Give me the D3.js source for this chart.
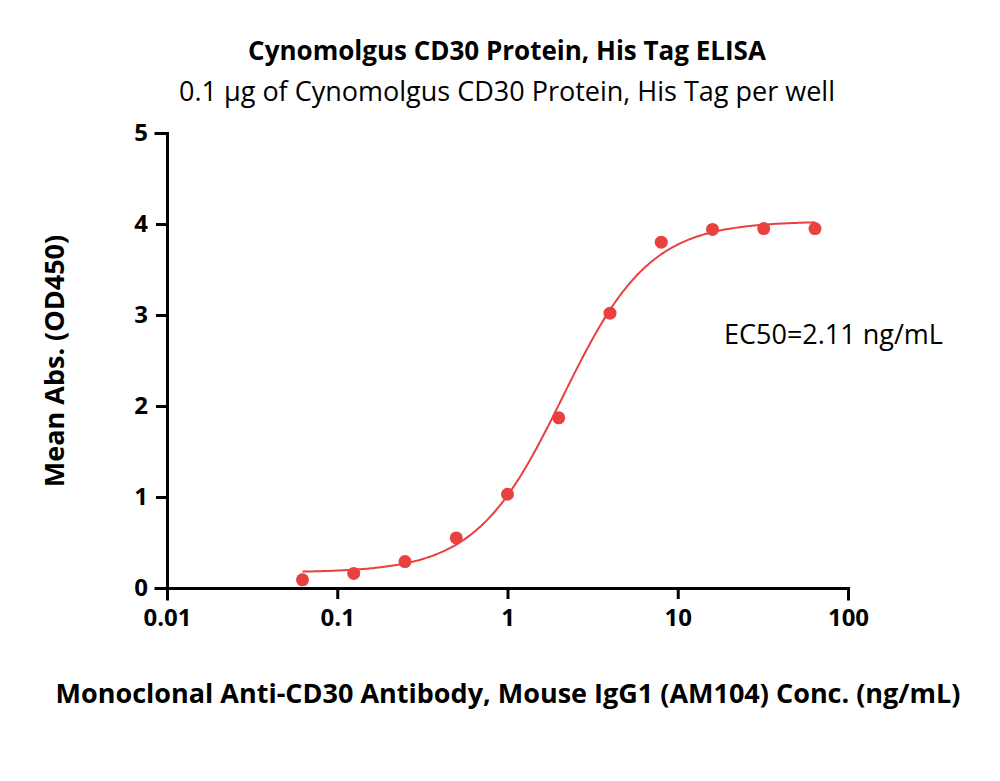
<!DOCTYPE html>
<html>
<head>
<meta charset="utf-8">
<script src="https://d3js.org/d3.v7.min.js"></script>
<style>
body { margin: 0; background: #fff; font-family: "Open Sans", "Noto Sans", sans-serif; }
</style>
</head>
<body>
<div id="chart"></div>
<script>
var conc = [0.0625, 0.125, 0.25, 0.5, 1, 2, 4, 8, 16, 32, 64];
var od = [0.09, 0.16, 0.29, 0.55, 1.03, 1.87, 3.02, 3.80, 3.94, 3.95, 3.95];
var xTicks = [0.01, 0.1, 1, 10, 100];
var yTicks = [0, 1, 2, 3, 4, 5];
// 4PL fit parameters
var fitBottom = 0.17, fitTop = 4.03, fitEC50 = 2.11, fitHill = 1.7;

var width = 1000, height = 781;
var red = "#e8413f";

var svg = d3.select("#chart").append("svg")
  .attr("width", width).attr("height", height);

var x = d3.scaleLog().domain([0.01, 100]).range([167, 848]);
var y = d3.scaleLinear().domain([0, 5]).range([588, 133]);

// fitted curve
var curve = d3.range(0, 301).map(function(i) {
  var lx = Math.log10(conc[0]) + i / 300 * (Math.log10(conc[conc.length - 1]) - Math.log10(conc[0]));
  var c = Math.pow(10, lx);
  return [c, fitBottom + (fitTop - fitBottom) / (1 + Math.pow(fitEC50 / c, fitHill))];
});
svg.append("path").datum(curve)
  .attr("fill", "none").attr("stroke", red).attr("stroke-width", 2)
  .attr("d", d3.line().x(function(d) { return x(d[0]); }).y(function(d) { return y(d[1]); }));

svg.selectAll("circle.pt").data(conc).enter().append("circle")
  .attr("cx", function(d) { return x(d); })
  .attr("cy", function(d, i) { return y(od[i]); })
  .attr("r", 6.5).attr("fill", red);

var xAxis = svg.append("g").attr("transform", "translate(0," + 588 + ")")
  .call(d3.axisBottom(x).tickValues(xTicks).tickSize(11).tickPadding(10)
    .tickFormat(function(d) { return String(d); }));
var yAxis = svg.append("g").attr("transform", "translate(167,0)")
  .call(d3.axisLeft(y).tickValues(yTicks).tickSize(11).tickPadding(8)
    .tickFormat(d3.format("d")));

[xAxis, yAxis].forEach(function(g) {
  g.selectAll("path, line").attr("stroke", "#000").attr("stroke-width", 3);
  g.select("path").attr("stroke-linecap", "square");
  g.selectAll("text").attr("fill", "#000")
    .style("font-family", "'Open Sans', sans-serif")
    .style("font-size", "24px").style("font-weight", "bold");
});

svg.append("text").attr("x", 507).attr("y", 60).attr("text-anchor", "middle")
  .style("font-size", "26px").style("font-weight", "bold")
  .text("Cynomolgus CD30 Protein, His Tag ELISA");
svg.append("text").attr("x", 507).attr("y", 101).attr("text-anchor", "middle")
  .style("font-size", "27px")
  .text("0.1 µg of Cynomolgus CD30 Protein, His Tag per well");
svg.append("text").attr("x", 508).attr("y", 703).attr("text-anchor", "middle")
  .style("font-size", "27px").style("font-weight", "bold")
  .text("Monoclonal Anti-CD30 Antibody, Mouse IgG1 (AM104) Conc. (ng/mL)");
svg.append("text").attr("transform", "translate(64,361) rotate(-90)")
  .attr("text-anchor", "middle")
  .style("font-size", "27px").style("font-weight", "bold")
  .text("Mean Abs. (OD450)");
svg.append("text").attr("x", 724).attr("y", 344)
  .style("font-size", "27px")
  .text("EC50=2.11 ng/mL");
</script>
</body>
</html>
